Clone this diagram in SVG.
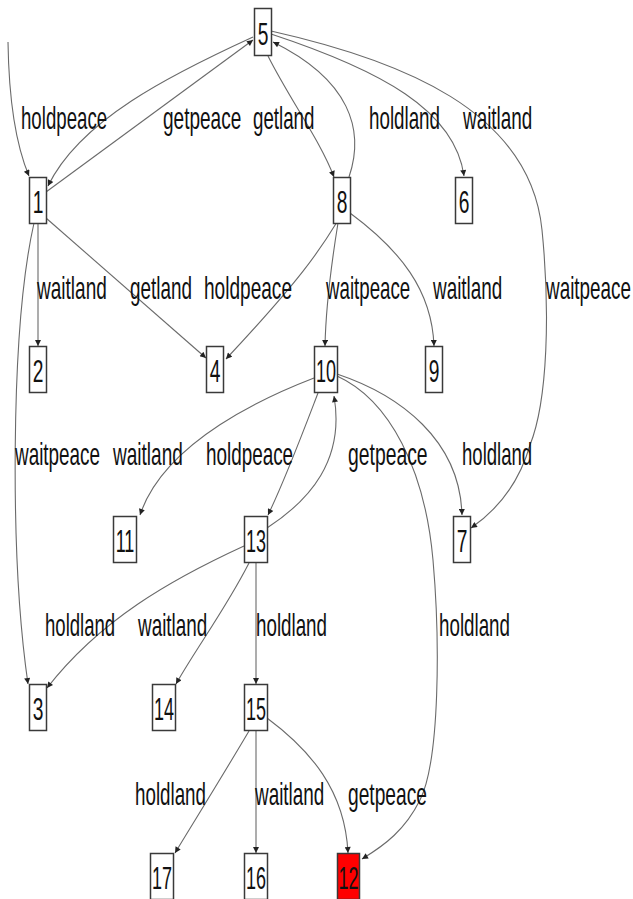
<svg xmlns="http://www.w3.org/2000/svg" width="633" height="899" viewBox="0 0 633 899">
  <style>
    .node rect { fill: #ffffff; stroke: #3a3a3a; stroke-width: 1.5; }
    .node text { font-family: "Liberation Sans", Arial, sans-serif; font-size: 31px; fill: #111; text-anchor: middle; }
    .edges path { fill: none; stroke: #6a6a6a; stroke-width: 1.1; marker-end: url(#arrow); }
    .labels text { font-family: "Liberation Sans", Arial, sans-serif; font-size: 32px; fill: #111; }
  </style>
  <defs>
    <marker id="arrow" viewBox="0 0 10 10" refX="10" refY="5" markerWidth="9" markerHeight="6" markerUnits="userSpaceOnUse" orient="auto">
      <path d="M0,0 L10,5 L0,10 z" fill="#222"/>
    </marker>
  </defs>
  <rect width="633" height="899" fill="#ffffff"/>

  <g class="edges" id="edges">
    <path d="M8,42 C9,110 18,150 29,176"/>
    <path d="M253,37 C170,75 80,120 48,186"/>
    <path d="M46,192 L253,40"/>
    <path d="M268,56 C290,100 320,140 334,177"/>
    <path d="M349,177 C365,130 350,80 273,42"/>
    <path d="M271,34 C380,70 455,110 464,176"/>
    <path d="M271,31 C400,60 530,110 542,230 C550,310 548,400 530,445 C520,480 500,508 471,528"/>
    <path d="M38,223 L38,346"/>
    <path d="M46,218 L206,358"/>
    <path d="M337,222 C320,250 300,280 226,359"/>
    <path d="M338,223 C332,260 326,300 325,346"/>
    <path d="M350,213 C400,250 432,290 434,346"/>
    <path d="M34,223 C10,330 10,560 28,684"/>
    <path d="M314,378 C270,395 165,440 140,515"/>
    <path d="M318,393 C300,440 285,480 268,515"/>
    <path d="M267,528 C310,500 345,460 334,396"/>
    <path d="M337,374 C400,395 460,440 462,515"/>
    <path d="M337,376 C390,400 425,470 433,560 C440,640 440,760 420,800 C405,830 385,845 362,859"/>
    <path d="M244,546 C170,580 100,620 47,688"/>
    <path d="M249,563 C225,610 195,650 176,684"/>
    <path d="M256,563 L256,684"/>
    <path d="M249,731 C220,780 195,820 175,853"/>
    <path d="M256,731 L256,853"/>
    <path d="M267,718 C310,750 345,790 348,853"/>
  </g>

  <!-- edge labels: narrow lettering, drawn at 32px and squeezed horizontally -->
  <g class="labels" id="edge-labels">
    <text transform="translate(21,129) scale(0.583,1)">holdpeace</text>
    <text transform="translate(163,129) scale(0.595,1)">getpeace</text>
    <text transform="translate(253,129) scale(0.585,1)">getland</text>
    <text transform="translate(369,129) scale(0.587,1)">holdland</text>
    <text transform="translate(463,129) scale(0.59,1)">waitland</text>

    <text transform="translate(37,299) scale(0.595,1)">waitland</text>
    <text transform="translate(130,299) scale(0.59,1)">getland</text>
    <text transform="translate(204,299) scale(0.596,1)">holdpeace</text>
    <text transform="translate(326,299) scale(0.585,1)">waitpeace</text>
    <text transform="translate(433,299) scale(0.59,1)">waitland</text>
    <text transform="translate(546,299) scale(0.59,1)">waitpeace</text>

    <text transform="translate(15,465) scale(0.59,1)">waitpeace</text>
    <text transform="translate(113,465) scale(0.595,1)">waitland</text>
    <text transform="translate(206,465) scale(0.59,1)">holdpeace</text>
    <text transform="translate(348,465) scale(0.605,1)">getpeace</text>
    <text transform="translate(462,465) scale(0.58,1)">holdland</text>

    <text transform="translate(45,636) scale(0.58,1)">holdland</text>
    <text transform="translate(138,636) scale(0.59,1)">waitland</text>
    <text transform="translate(256,636) scale(0.587,1)">holdland</text>
    <text transform="translate(439,636) scale(0.587,1)">holdland</text>

    <text transform="translate(135,805) scale(0.587,1)">holdland</text>
    <text transform="translate(255,805) scale(0.59,1)">waitland</text>
    <text transform="translate(348,805) scale(0.6,1)">getpeace</text>
  </g>

  <g class="node" id="node-5"><rect x="254.5" y="8.5" width="17" height="47"/><text transform="translate(263,45) scale(0.62,1)">5</text></g>
  <g class="node" id="node-1"><rect x="29.5" y="177.5" width="17" height="46"/><text transform="translate(38,213) scale(0.62,1)">1</text></g>
  <g class="node" id="node-8"><rect x="333.5" y="177.5" width="17" height="46"/><text transform="translate(342,213) scale(0.62,1)">8</text></g>
  <g class="node" id="node-6"><rect x="455.5" y="177.5" width="17" height="46"/><text transform="translate(464,213) scale(0.62,1)">6</text></g>
  <g class="node" id="node-2"><rect x="29.5" y="346.5" width="17" height="46"/><text transform="translate(38,382) scale(0.62,1)">2</text></g>
  <g class="node" id="node-4"><rect x="206.5" y="346.5" width="17" height="46"/><text transform="translate(215,382) scale(0.62,1)">4</text></g>
  <g class="node" id="node-10"><rect x="314.5" y="346.5" width="23" height="46"/><text transform="translate(326,382) scale(0.58,1)">10</text></g>
  <g class="node" id="node-9"><rect x="425.5" y="346.5" width="17" height="46"/><text transform="translate(434,382) scale(0.62,1)">9</text></g>
  <g class="node" id="node-11"><rect x="113.5" y="516.5" width="23" height="46"/><text transform="translate(125,552) scale(0.58,1)">11</text></g>
  <g class="node" id="node-13"><rect x="244.5" y="516.5" width="23" height="46"/><text transform="translate(256,552) scale(0.58,1)">13</text></g>
  <g class="node" id="node-7"><rect x="453.5" y="516.5" width="17" height="46"/><text transform="translate(462,552) scale(0.62,1)">7</text></g>
  <g class="node" id="node-3"><rect x="29.5" y="684.5" width="17" height="46"/><text transform="translate(38,720) scale(0.62,1)">3</text></g>
  <g class="node" id="node-14"><rect x="152.5" y="684.5" width="23" height="46"/><text transform="translate(164,720) scale(0.58,1)">14</text></g>
  <g class="node" id="node-15"><rect x="244.5" y="684.5" width="23" height="46"/><text transform="translate(256,720) scale(0.58,1)">15</text></g>
  <g class="node" id="node-17"><rect x="150.5" y="853.5" width="23" height="46"/><text transform="translate(162,889) scale(0.58,1)">17</text></g>
  <g class="node" id="node-16"><rect x="244.5" y="853.5" width="23" height="46"/><text transform="translate(256,889) scale(0.58,1)">16</text></g>
  <g class="node" id="node-12"><rect x="337.5" y="853.5" width="22" height="46" style="fill:#ff0000"/><text transform="translate(348.5,889) scale(0.58,1)">12</text></g>
</svg>
